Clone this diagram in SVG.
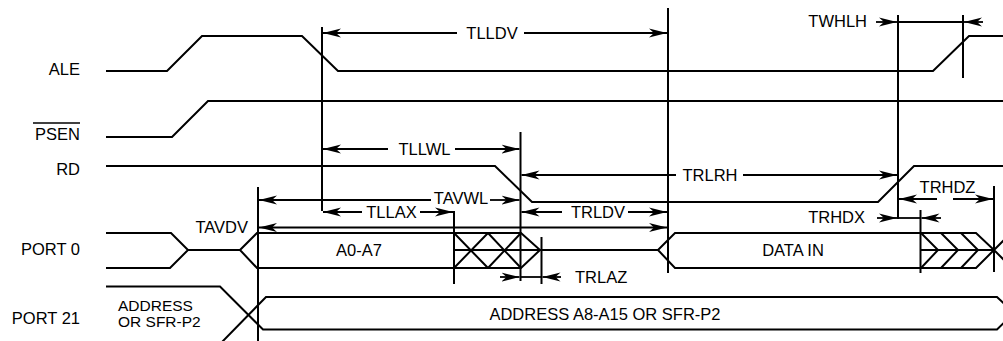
<svg xmlns="http://www.w3.org/2000/svg" width="1003" height="341" viewBox="0 0 1003 341">
<style>
.sig{fill:none;stroke:#000;stroke-width:2;stroke-linejoin:miter}
.vl{fill:none;stroke:#000;stroke-width:2}
.dim{fill:none;stroke:#000;stroke-width:1.8}
.arr{marker-end:url(#ah)}
.arr2{marker-start:url(#ah);marker-end:url(#ah)}
.arrs{marker-start:url(#ah)}
text{font-family:"Liberation Sans",Arial,Helvetica,sans-serif;font-size:16.5px;fill:#000}
.m{text-anchor:middle}
.e{text-anchor:end}
.sm{font-size:15.5px}
</style>
<defs>
<marker id="ah" viewBox="-18 -5 19 10" refX="0" refY="0" markerWidth="19" markerHeight="10" orient="auto-start-reverse" markerUnits="userSpaceOnUse">
<path d="M0,0 L-18,-4.5 L-13,0 L-18,4.5 Z" fill="#000"/>
</marker>
</defs>
<rect width="1003" height="341" fill="#fff"/>

<g id="ale">
<text class="e" x="80" y="75">ALE</text>
<path class="sig" d="M106,71 H167 L202,36 H302 L338,71 H933 L969,36 H1003"/>
</g>
<g id="psen">
<text class="e" x="80" y="139.5">PSEN</text>
<line x1="33" y1="123" x2="80" y2="123" stroke="#000" stroke-width="1.5"/>
<path class="sig" d="M106,137 H172 L208,101 H1003"/>
</g>
<g id="rd">
<text class="e" x="80" y="175">RD</text>
<path class="sig" d="M106,166 H495 L532,202 H878 L914,166 H1003"/>
</g>
<g id="port0">
<text class="e" x="80" y="255">PORT 0</text>
<path class="sig" d="M106,233 H171 L188,250 L170,268 H106 M188,250 H240"/>
<path class="sig" d="M240,250 L257,233 H521 L540,250 L521,268 H257 Z"/>
<path class="sig" d="M454,233 L488,268 M454,268 L488,233 M488,233 L521,268 M488,268 L521,233 M454,250 H540"/>
<path class="sig" d="M540,250 H658"/>
<path class="sig" d="M658,250 L675,233 H976 L994,250 L976,268 H675 Z"/>
<path class="sig" d="M920,250 H994 M921,233 L938,250 L921,268 M941,233 L958,250 L941,268 M961,233 L978,250 L961,268"/>
<path class="sig" d="M994,250 L1011,233 M994,250 L1011,267"/>
<text class="m" x="359" y="256">A0-A7</text>
<text class="m" x="793" y="256">DATA IN</text>
</g>
<g id="port21">
<text class="e" x="80" y="324">PORT 21</text>
<path class="sig" d="M106,286.5 H220 L263,329.5 H997 L1014,313"/>
<path class="sig" d="M222,342 L266,297 H997 L1014,313"/>
<text class="sm" x="118" y="311">ADDRESS</text>
<text class="sm" x="118" y="327">OR SFR-P2</text>
<text class="m" x="605" y="320">ADDRESS A8-A15 OR SFR-P2</text>
</g>

<g id="connectors">
<g id="verticals">
<line class="vl" x1="322" y1="27" x2="322" y2="211"/>
<line class="vl" x1="258" y1="187" x2="258" y2="341"/>
<line class="vl" x1="520.5" y1="132" x2="520.5" y2="281"/>
<line class="vl" x1="668" y1="8" x2="668" y2="273"/>
<line class="vl" x1="898" y1="15" x2="898" y2="219"/>
<line class="vl" x1="963" y1="15" x2="963" y2="78"/>
<line class="vl" x1="454" y1="211" x2="454" y2="284"/>
<line class="vl" x1="541.5" y1="237" x2="541.5" y2="284"/>
<line class="vl" x1="920.5" y1="210" x2="920.5" y2="273"/>
<line class="vl" x1="994" y1="186" x2="994" y2="272"/>
</g>
<g id="tlldv">
<line class="dim arrs" x1="323" y1="33" x2="457" y2="33"/>
<line class="dim arr" x1="524" y1="33" x2="667" y2="33"/>
<text class="m" x="492" y="38.5">TLLDV</text>
</g>
<g id="tllwl">
<line class="dim arrs" x1="323" y1="149" x2="388" y2="149"/>
<line class="dim arr" x1="455" y1="149" x2="519.5" y2="149"/>
<text class="m" x="424.5" y="155">TLLWL</text>
</g>
<g id="trlrh">
<line class="dim arrs" x1="521.5" y1="175" x2="676" y2="175"/>
<line class="dim arr" x1="743" y1="175" x2="897" y2="175"/>
<text class="m" x="710" y="181">TRLRH</text>
</g>
<g id="tavwl">
<line class="dim arrs" x1="259" y1="200" x2="431" y2="200"/>
<line class="dim arr" x1="490" y1="200" x2="519.5" y2="200"/>
<text class="m" x="461" y="204">TAVWL</text>
</g>
<g id="tllax">
<line class="dim arrs" x1="323" y1="212" x2="362" y2="212"/>
<line class="dim arr" x1="420" y1="212" x2="453" y2="212"/>
<text class="m" x="391.5" y="218">TLLAX</text>
</g>
<g id="trldv">
<line class="dim arrs" x1="521.5" y1="212" x2="562" y2="212"/>
<line class="dim arr" x1="628" y1="212" x2="667" y2="212"/>
<text class="m" x="598" y="218">TRLDV</text>
</g>
<g id="tavdv">
<line class="dim arr2" x1="259" y1="227.5" x2="667" y2="227.5"/>
<text class="e" x="248" y="233">TAVDV</text>
</g>
<g id="trlaz">
<line class="dim arr" x1="500" y1="277" x2="519.5" y2="277"/>
<line class="dim" x1="520.5" y1="277" x2="541.5" y2="277"/>
<line class="dim arr" x1="561" y1="277" x2="542.5" y2="277"/>
<text x="575" y="283">TRLAZ</text>
</g>
<g id="twhlh">
<line class="dim arr" x1="876" y1="22" x2="897" y2="22"/>
<line class="dim" x1="898" y1="22" x2="963" y2="22"/>
<line class="dim arr" x1="983" y1="22" x2="964" y2="22"/>
<text class="e" x="867" y="27">TWHLH</text>
</g>
<g id="trhdx">
<line class="dim arr" x1="877" y1="218" x2="897" y2="218"/>
<line class="dim" x1="898" y1="218" x2="920.5" y2="218"/>
<line class="dim arr" x1="941" y1="218" x2="921.5" y2="218"/>
<text class="e" x="865" y="223">TRHDX</text>
</g>
<g id="trhdz">
<line class="dim arrs" x1="899" y1="199" x2="937" y2="199"/>
<line class="dim arr" x1="953" y1="199" x2="993" y2="199"/>
<text class="m" x="947.5" y="193">TRHDZ</text>
</g>
</g>
</svg>
